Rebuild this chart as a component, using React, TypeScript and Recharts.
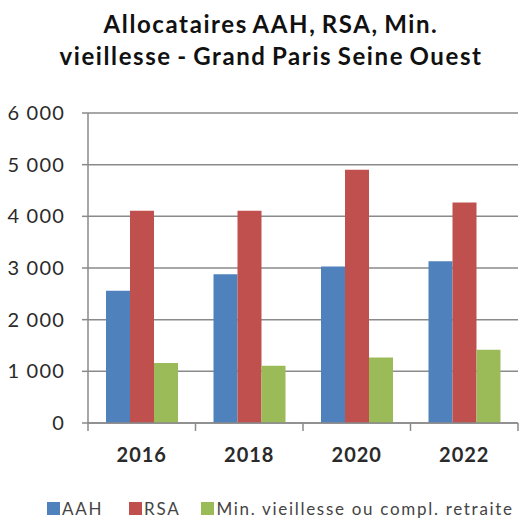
import React from "react";
import { BarChart, Bar, XAxis, YAxis, CartesianGrid } from "recharts";

const years = ["2016", "2018", "2020", "2022"];
const aah = [2560, 2880, 3030, 3130];
const rsa = [4110, 4110, 4900, 4270];
const minVieillesse = [1160, 1110, 1270, 1420];
const yTicks = [0, 1000, 2000, 3000, 4000, 5000, 6000];
const titleLines = ["Allocataires AAH, RSA, Min.", "vieillesse - Grand Paris Seine Ouest"];

const series = [
  { key: "aah", name: "AAH", color: "#4F81BD", values: aah },
  { key: "rsa", name: "RSA", color: "#C0504D", values: rsa },
  { key: "min", name: "Min. vieillesse ou compl. retraite", color: "#9BBB59", values: minVieillesse },
];

const data = years.map((y, i) => {
  const row: Record<string, string | number> = { year: y };
  series.forEach((s) => (row[s.key] = s.values[i]));
  return row;
});

const FONT = "Lato, 'DejaVu Sans', sans-serif";
const GRID = "#8a8a8a";
const W = 520;
const H = 518;
const LEFT = 88;
const RIGHT_MARGIN = 2;
const HALF_BAND = (W - LEFT - RIGHT_MARGIN) / years.length / 2;

const fmt = (v: number) => {
  const s = String(v);
  return s.length > 3 ? s.slice(0, s.length - 3) + "\u00a0" + s.slice(-3) : s;
};

const XTick = (props: any) => {
  const { x, y, payload, index } = props;
  const last = index === years.length - 1;
  return (
    <g>
      <line x1={x - HALF_BAND} x2={x - HALF_BAND} y1={y} y2={y + 8} stroke={GRID} strokeWidth={1.5} />
      {last && (
        <line x1={x + HALF_BAND} x2={x + HALF_BAND} y1={y} y2={y + 8} stroke={GRID} strokeWidth={1.5} />
      )}
      <text
        x={x}
        y={y + 34}
        textAnchor="middle"
        dominantBaseline="middle"
        fontFamily={FONT}
        fontSize={20}
        fontWeight={700}
        letterSpacing={1}
        fill="#2a2a2a"
      >
        {payload.value}
      </text>
    </g>
  );
};

export default function App() {
  return (
    <div style={{ position: "absolute", left: 0, top: 0, width: W, height: H, background: "#fff", overflow: "hidden" }}>
      <div
        style={{
          position: "absolute",
          left: 11,
          top: 8,
          width: W,
          textAlign: "center",
          fontFamily: FONT,
          fontWeight: 700,
          fontSize: 24,
          letterSpacing: 1.6,
          wordSpacing: -2,
          lineHeight: "32px",
          color: "#111",
        }}
      >
        {titleLines.map((t) => (
          <div key={t}>{t}</div>
        ))}
      </div>
      <BarChart
        width={W}
        height={H}
        data={data}
        margin={{ top: 113, right: RIGHT_MARGIN, bottom: 45, left: 0 }}
        barGap={0}
      >
        <CartesianGrid vertical={false} stroke={GRID} strokeWidth={1.5} />
        <XAxis
          dataKey="year"
          height={50}
          axisLine={{ stroke: GRID, strokeWidth: 1.5 }}
          tickLine={false}
          tickSize={0}
          tickMargin={0}
          tick={<XTick />}
          interval={0}
        />
        <YAxis
          width={LEFT}
          domain={[0, 6000]}
          ticks={yTicks}
          tickFormatter={fmt}
          axisLine={{ stroke: GRID, strokeWidth: 1.5 }}
          tickLine={{ stroke: GRID, strokeWidth: 1.5 }}
          tickSize={6}
          tickMargin={17}
          tick={{ fontFamily: FONT, fontSize: 20, fontWeight: 400, fill: "#2a2a2a", letterSpacing: 1.2 }}
        />
        {series.map((s) => (
          <Bar key={s.key} dataKey={s.key} name={s.name} fill={s.color} barSize={24} isAnimationActive={false} />
        ))}
      </BarChart>
      <div
        style={{
          position: "absolute",
          left: 47,
          top: 500,
          height: 17,
          display: "flex",
          alignItems: "center",
          fontFamily: FONT,
          fontSize: 17,
          lineHeight: "17px",
          letterSpacing: 1.7,
          color: "#444",
          whiteSpace: "nowrap",
        }}
      >
        {series.map((s, i) => (
          <div key={s.key} style={{ display: "flex", alignItems: "center", gap: 2, marginRight: i === 0 ? 26 : 21 }}>
            <span style={{ display: "inline-block", width: 13, height: 13, background: s.color }} />
            <span>{s.name}</span>
          </div>
        ))}
      </div>
    </div>
  );
}
